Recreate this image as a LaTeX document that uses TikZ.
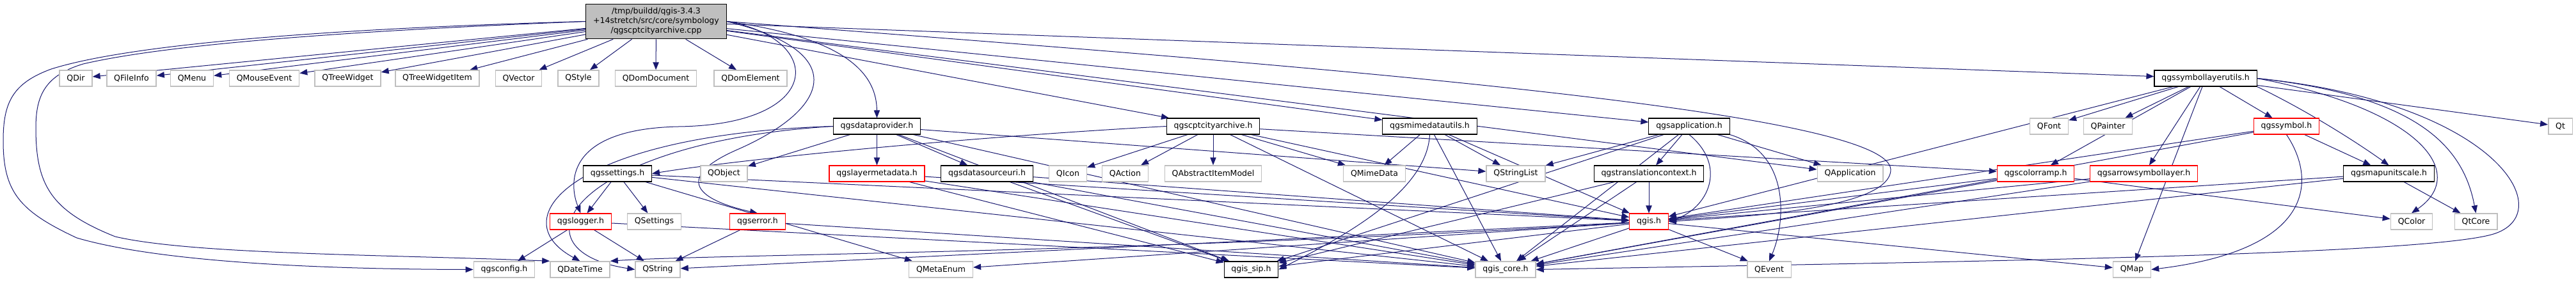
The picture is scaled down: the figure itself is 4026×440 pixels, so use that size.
\documentclass[tikz,border=0pt]{standalone}
\usepackage{fontspec}
\setmainfont{DejaVu Sans}
\usetikzlibrary{arrows.meta}
\definecolor{depblue}{RGB}{25, 25, 112}
\definecolor{boxgrey}{RGB}{191, 191, 191}
\pgfdeclarelayer{edges}
\pgfsetlayers{edges,main}

\tikzset{
  hdr/.style={draw=black, fill=white, line width=0.8pt, font=\fontsize{9.4}{11.25}\selectfont,
    minimum height=18.75pt, inner xsep=8.5pt, inner ysep=0pt},
  sysinc/.style={hdr, draw=boxgrey, line width=1.1pt},
  partinc/.style={hdr, draw=red},
  rootbox/.style={hdr, fill=boxgrey, minimum height=41pt, align=center},
  incl/.style={draw=depblue, line width=0.75pt, -{Triangle[length=9pt,width=7pt]}}
}

\begin{document}
\begin{tikzpicture}[x=0.75pt, y=-0.75pt]
                    \useasboundingbox (0,0) rectangle (4026,440);

                    % source file
                    \node[rootbox] (root) at (1025.5,33.5) {/tmp/buildd/qgis-3.4.3\\+14stretch/src/core/symbology\\/qgscptcityarchive.cpp};

                    % first row
                    \node[sysinc] (qdir) at (118.5,122.5) {QDir};
                    \node[sysinc] (qfileinfo) at (205.5,122.5) {QFileInfo};
                    \node[sysinc] (qmenu) at (300,122.5) {QMenu};
                    \node[sysinc] (qmouseevent) at (413,122.5) {QMouseEvent};
                    \node[sysinc] (qtreewidget) at (543.5,122.5) {QTreeWidget};
                    \node[sysinc] (qtreewidgetitem) at (683.5,122.5) {QTreeWidgetItem};
                    \node[sysinc] (qvector) at (810.5,122.5) {QVector};
                    \node[sysinc] (qstyle) at (904,122.5) {QStyle};
                    \node[sysinc] (qdomdocument) at (1025,122.5) {QDomDocument};
                    \node[sysinc] (qdomelement) at (1173,122.5) {QDomElement};
                    \node[hdr] (symlayerutils) at (3447,122.5) {qgssymbollayerutils.h};

                    % second row
                    \node[hdr] (dataprovider) at (1370.5,197.5) {qgsdataprovider.h};
                    \node[hdr] (cptarchive) at (1896,197.5) {qgscptcityarchive.h};
                    \node[hdr] (mimedatautils) at (2234.5,197.5) {qgsmimedatautils.h};
                    \node[hdr] (application) at (2640,197.5) {qgsapplication.h};
                    \node[sysinc] (qfont) at (3202.5,197.5) {QFont};
                    \node[sysinc] (qpainter) at (3294.5,197.5) {QPainter};
                    \node[partinc] (symbol) at (3573.5,197.5) {qgssymbol.h};
                    \node[sysinc] (qt) at (4001.5,197.5) {Qt};

                    % third row
                    \node[hdr] (settings) at (965,271.5) {qgssettings.h};
                    \node[sysinc] (qobject) at (1131.5,271.5) {QObject};
                    \node[partinc] (layermetadata) at (1370.5,271.5) {qgslayermetadata.h};
                    \node[hdr] (datasourceuri) at (1542.5,271.5) {qgsdatasourceuri.h};
                    \node[sysinc] (qicon) at (1669,271.5) {QIcon};
                    \node[sysinc] (qaction) at (1758.5,271.5) {QAction};
                    \node[sysinc] (qabstractitemmodel) at (1896,271.5) {QAbstractItemModel};
                    \node[sysinc] (qmimedata) at (2148,271.5) {QMimeData};
                    \node[sysinc] (qstringlist) at (2369,271.5) {QStringList};
                    \node[hdr] (translationcontext) at (2577,271.5) {qgstranslationcontext.h};
                    \node[sysinc] (qapplication) at (2891.5,271.5) {QApplication};
                    \node[partinc] (colorramp) at (3181.5,271.5) {qgscolorramp.h};
                    \node[partinc] (arrowsymlayer) at (3350.5,271.5) {qgsarrowsymbollayer.h};
                    \node[hdr] (mapunitscale) at (3733.5,271.5) {qgsmapunitscale.h};

                    % fourth row
                    \node[partinc] (logger) at (907.5,346.5) {qgslogger.h};
                    \node[sysinc] (qsettings) at (1022.5,346.5) {QSettings};
                    \node[partinc] (qgserror) at (1184,346.5) {qgserror.h};
                    \node[partinc] (qgis) at (2577,346.5) {qgis.h};
                    \node[sysinc] (qcolor) at (3769,346.5) {QColor};
                    \node[sysinc] (qtcore) at (3869.5,346.5) {QtCore};

                    % bottom row
                    \node[sysinc] (qgsconfig) at (788,421.5) {qgsconfig.h};
                    \node[sysinc] (qdatetime) at (906.5,421.5) {QDateTime};
                    \node[sysinc] (qstring) at (1028,421.5) {QString};
                    \node[sysinc] (qmetaenum) at (1470.5,421.5) {QMetaEnum};
                    \node[hdr] (qgissip) at (1955.5,421.5) {qgis\_sip.h};
                    \node[sysinc] (qgiscore) at (2353,421.5) {qgis\_core.h};
                    \node[sysinc] (qevent) at (2765,421.5) {QEvent};
                    \node[sysinc] (qmap) at (3332,421.5) {QMap};

                    \begin{pgfonlayer}{edges}
                    % includes of the source file
                    \draw[incl] (root) -- (qdir);
                    \draw[incl] (root) -- (qfileinfo);
                    \draw[incl] (root) -- (qmenu);
                    \draw[incl] (root) -- (qmouseevent);
                    \draw[incl] (root) -- (qtreewidget);
                    \draw[incl] (root) -- (qtreewidgetitem);
                    \draw[incl] (root) -- (qvector);
                    \draw[incl] (root) -- (qstyle);
                    \draw[incl] (root) -- (qdomdocument);
                    \draw[incl] (root) -- (qdomelement);
                    \draw[incl] (root) -- (symlayerutils);
                    \draw[incl] (root.east) .. controls (1330,60) and (1370,120) .. (dataprovider.north);
                    \draw[incl] (root) -- (cptarchive);
                    \draw[incl] (root) -- (mimedatautils);
                    \draw[incl] (root) -- (application);
                    \draw[incl] (root) -- (qapplication);
                    \draw[incl] (root.east) .. controls (2000,100) and (2950,170) .. (2955,265) .. controls (2955,330) and (2700,340) .. (qgis.east);
                    \draw[incl] (root.west) .. controls (500,45) and (200,70) .. (80,108) .. controls (20,130) and (5,160) .. (5,220)
                      .. controls (5,300) and (30,330) .. (120,372) .. controls (250,410) and (500,421) .. (qgsconfig.west);
                    \draw[incl] (root.west) .. controls (500,50) and (250,72) .. (130,100) .. controls (70,118) and (56,150) .. (56,200)
                      .. controls (56,290) and (80,330) .. (180,370) .. controls (300,398) and (600,398) .. (qdatetime.north west);
                    \draw[incl] (root.east) .. controls (1290,60) and (1290,195) .. (1060,198) .. controls (880,202) and (890,290) .. (logger.north);
                    \draw[incl] (root.east) .. controls (1330,80) and (1300,170) .. (1150,235) .. controls (1060,275) and (1080,310) .. (qgserror.north);

                    % qgsdataprovider.h
                    \draw[incl] (dataprovider) -- (qobject);
                    \draw[incl] (dataprovider) -- (layermetadata);
                    \draw[incl] (dataprovider) -- (datasourceuri);
                    \draw[incl] (dataprovider) -- (qstringlist);
                    \draw[incl] (dataprovider) -- (qgiscore);
                    \draw[incl] (dataprovider) -- (qgissip);
                    \draw[incl] (dataprovider.west) .. controls (900,210) and (780,340) .. (qdatetime.north);
                    \draw[incl] (dataprovider.west) .. controls (900,222) and (790,390) .. (qstring.west);

                    % qgscptcityarchive.h
                    \draw[incl] (cptarchive) -- (qicon);
                    \draw[incl] (cptarchive) -- (qaction);
                    \draw[incl] (cptarchive) -- (qabstractitemmodel);
                    \draw[incl] (cptarchive) -- (qmimedata);
                    \draw[incl] (cptarchive) -- (colorramp);
                    \draw[incl] (cptarchive) -- (qgis);
                    \draw[incl] (cptarchive) -- (qgiscore);
                    \draw[incl] (cptarchive.west) .. controls (1500,215) and (1150,250) .. (settings.east);

                    % qgsmimedatautils.h
                    \draw[incl] (mimedatautils) -- (qmimedata);
                    \draw[incl] (mimedatautils) -- (qstringlist);
                    \draw[incl] (mimedatautils) -- (qgiscore);
                    \draw[incl] (mimedatautils) -- (qgis);
                    \draw[incl] (mimedatautils.south) .. controls (2230,300) and (2100,370) .. (qgissip.east);

                    % qgsapplication.h
                    \draw[incl] (application) -- (qapplication);
                    \draw[incl] (application) -- (qstringlist);
                    \draw[incl] (application) -- (translationcontext);
                    \draw[incl] (application) -- (qgiscore);
                    \draw[incl] (application) -- (qgissip);
                    \draw[incl] (application.south east) .. controls (2800,240) and (2790,350) .. (qevent.north);
                    \draw[incl] (application.south) .. controls (2700,260) and (2670,325) .. (qgis.east);

                    % qgssettings.h
                    \draw[incl] (settings) -- (logger);
                    \draw[incl] (settings) -- (qsettings);
                    \draw[incl] (settings) -- (qmetaenum);
                    \draw[incl] (settings) -- (qgiscore);
                    \draw[incl] (settings) -- (qgis);

                    % qgslogger.h and qgserror.h
                    \draw[incl] (logger) -- (qgsconfig);
                    \draw[incl] (logger) -- (qstring);
                    \draw[incl] (logger) -- (qgiscore);
                    \draw[incl] (qgserror) -- (qstring);
                    \draw[incl] (qgserror) -- (qgiscore);

                    % qgslayermetadata.h, qgsdatasourceuri.h, qgstranslationcontext.h
                    \draw[incl] (layermetadata) -- (qgis);
                    \draw[incl] (layermetadata) -- (qgiscore);
                    \draw[incl] (layermetadata) -- (qgissip);
                    \draw[incl] (datasourceuri) -- (qgis);
                    \draw[incl] (datasourceuri) -- (qgiscore);
                    \draw[incl] (datasourceuri) -- (qgissip);
                    \draw[incl] (translationcontext) -- (qgis);
                    \draw[incl] (translationcontext) -- (qgiscore);
                    \draw[incl] (translationcontext) -- (qgissip);

                    % qgssymbollayerutils.h
                    \draw[incl] (symlayerutils) -- (qfont);
                    \draw[incl] (symlayerutils) -- (qpainter);
                    \draw[incl] (symlayerutils) -- (symbol);
                    \draw[incl] (symlayerutils) -- (arrowsymlayer);
                    \draw[incl] (symlayerutils) -- (colorramp);
                    \draw[incl] (symlayerutils) -- (qt);
                    \draw[incl] (symlayerutils) -- (qgis);
                    \draw[incl] (symlayerutils) -- (qmap);
                    \draw[incl] (symlayerutils.south east) .. controls (3600,170) and (3680,220) .. (mapunitscale.north);
                    \draw[incl] (symlayerutils.east) .. controls (3780,170) and (3860,270) .. (qcolor.north);
                    \draw[incl] (symlayerutils.east) .. controls (3780,150) and (3850,230) .. (qtcore.north);
                    \draw[incl] (symlayerutils.east) .. controls (3900,160) and (4000,330) .. (3900,365) .. controls (3800,400) and (3000,410) .. (qgiscore.east);

                    % qgssymbol.h
                    \draw[incl] (symbol) -- (mapunitscale);
                    \draw[incl] (symbol) -- (qgis);
                    \draw[incl] (symbol) -- (qgiscore);
                    \draw[incl] (symbol.south) .. controls (3620,280) and (3620,390) .. (qmap.east);

                    % qgscolorramp.h, qgsarrowsymbollayer.h, qgsmapunitscale.h
                    \draw[incl] (colorramp) -- (qcolor);
                    \draw[incl] (colorramp) -- (qgis);
                    \draw[incl] (colorramp) -- (qgiscore);
                    \draw[incl] (arrowsymlayer) -- (qgis);
                    \draw[incl] (arrowsymlayer) -- (qgiscore);
                    \draw[incl] (mapunitscale) -- (qtcore);
                    \draw[incl] (mapunitscale) -- (qgis);
                    \draw[incl] (mapunitscale) -- (qgiscore);

                    % qgis.h
                    \draw[incl] (qgis) -- (qmetaenum);
                    \draw[incl] (qgis) -- (qstring);
                    \draw[incl] (qgis) .. controls (1800,395) and (1100,398) .. (qdatetime.north east);
                    \draw[incl] (qgis) -- (qevent);
                    \draw[incl] (qgis) -- (qmap);
                    \draw[incl] (qgis) -- (qgiscore);
                    \draw[incl] (qgis) -- (qgissip);
                    \end{pgfonlayer}
                \end{tikzpicture}
\end{document}
